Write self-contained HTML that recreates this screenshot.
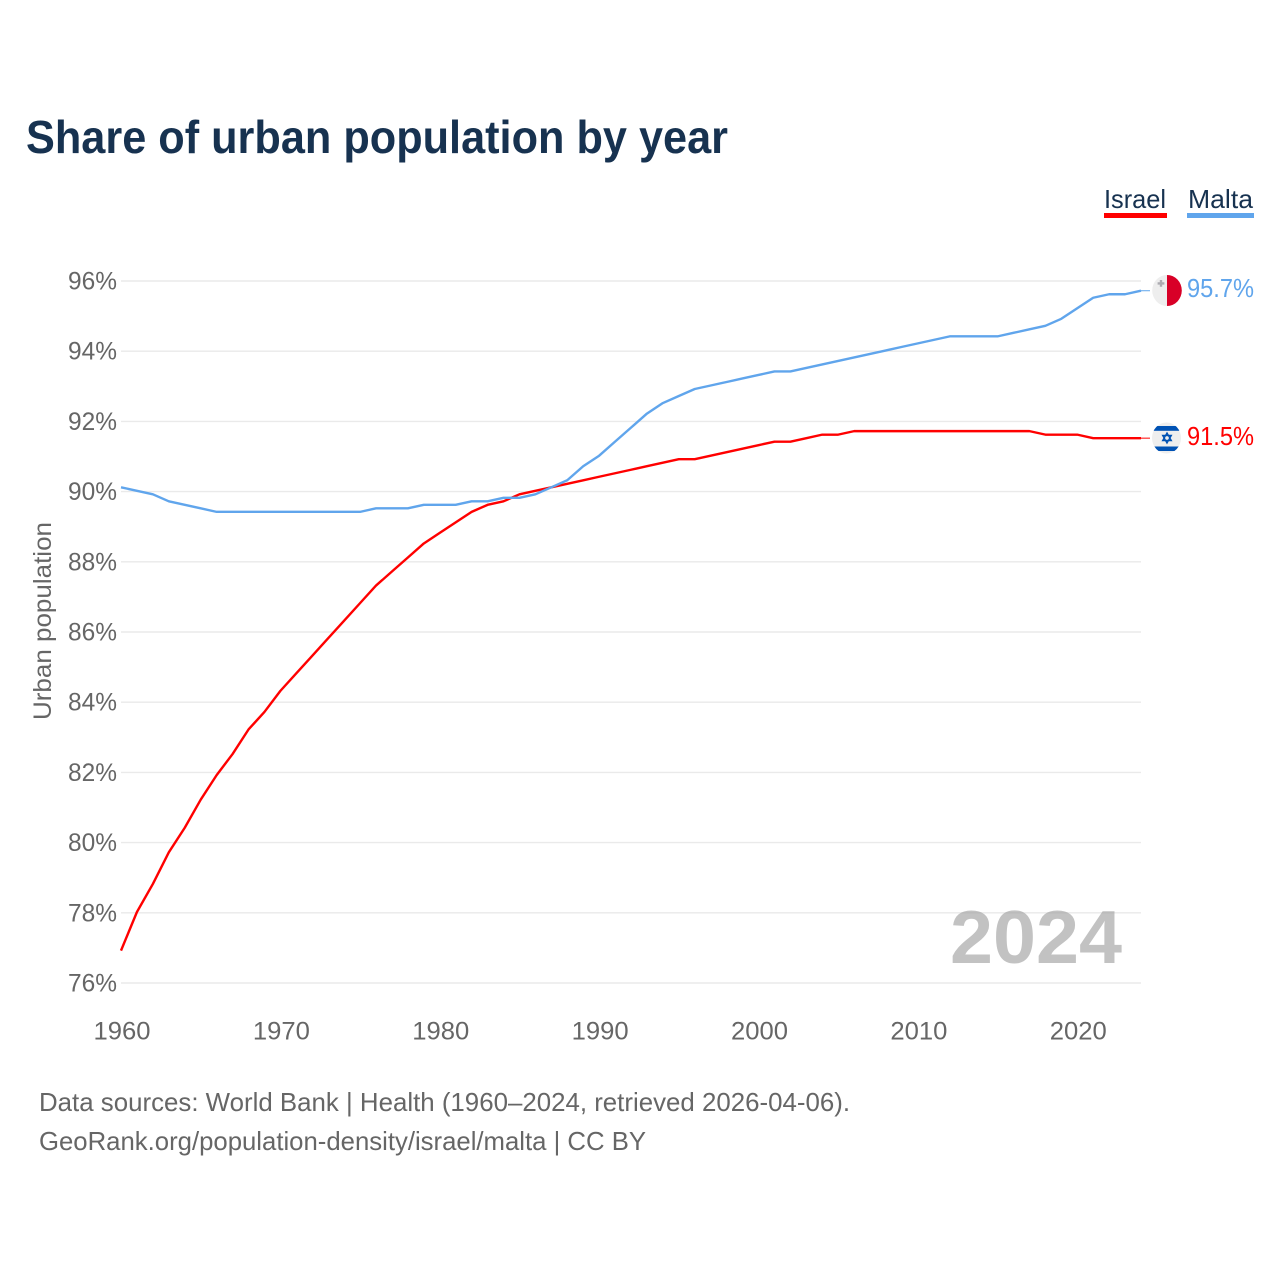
<!DOCTYPE html>
<html lang="en">
<head>
<meta charset="utf-8">
<title>Share of urban population by year</title>
<style>
html,body{margin:0;padding:0;background:#fff}
svg{display:block}
text{font-family:"Liberation Sans",sans-serif}
</style>
</head>
<body>
<svg id="chart" xmlns="http://www.w3.org/2000/svg" width="1280" height="1280" viewBox="0 0 1280 1280">
  <rect width="1280" height="1280" fill="#fff"/>
  <text x="26" y="153" font-size="46" font-weight="700" fill="#173250" textLength="702" lengthAdjust="spacingAndGlyphs">Share of urban population by year</text>

  <g>
    <g>
      <text x="1104" y="208" font-size="26" fill="#173250" textLength="62" lengthAdjust="spacingAndGlyphs">Israel</text>
      <rect x="1104" y="213" width="63" height="5" fill="#ff0000"/>
    </g>
    <g>
      <text x="1188" y="208" font-size="26" fill="#173250" textLength="65" lengthAdjust="spacingAndGlyphs">Malta</text>
      <rect x="1187" y="213" width="67" height="5" fill="#60a5ec"/>
    </g>
  </g>

  <text transform="translate(51,621) rotate(-90)" text-anchor="middle" font-size="25" fill="#666" textLength="198" lengthAdjust="spacingAndGlyphs">Urban population</text>

  <g id="grid"></g>
  <g id="yticks"></g>
  <g id="xticks"></g>

  <text x="1122" y="963" text-anchor="end" font-size="75" font-weight="700" fill="#999" fill-opacity="0.6" textLength="172" lengthAdjust="spacingAndGlyphs">2024</text>

  <g id="series" transform="translate(0,-0.8)"></g>

  <defs>
    <clipPath id="clip-malta"><ellipse cx="1167" cy="290.5" rx="14.8" ry="15.5"/></clipPath>
    <clipPath id="clip-israel"><ellipse cx="1166.5" cy="438" rx="14.5" ry="15.5"/></clipPath>
  </defs>

  <g clip-path="url(#clip-malta)">
    <rect x="1151" y="275" width="16" height="31" fill="#eeeeee"/>
    <rect x="1167" y="275" width="16" height="31" fill="#d80027"/>
    <path d="M1159.8 280h2.4v2.2h2.2v2.4h-2.2v2.2h-2.4v-2.2h-2.2v-2.4h2.2z" fill="#acabb1"/>
  </g>
  <g clip-path="url(#clip-israel)">
    <rect x="1151" y="422" width="32" height="32" fill="#eeeeee"/>
    <rect x="1151" y="426" width="32" height="4.8" fill="#0052b4"/>
    <rect x="1151" y="446.5" width="32" height="4.5" fill="#0052b4"/>
    <path d="M1167 433l4.3 7.5h-8.6zM1167 443l-4.3-7.5h8.6z" fill="none" stroke="#0052b4" stroke-width="1.4"/>
  </g>

  <text x="1187" y="297" font-size="26" fill="#60a5ec" textLength="67" lengthAdjust="spacingAndGlyphs">95.7%</text>
  <text x="1187" y="445" font-size="26" fill="#ff0000" textLength="67" lengthAdjust="spacingAndGlyphs">91.5%</text>

  <g>
    <text x="39" y="1111" font-size="26" fill="#666" textLength="811" lengthAdjust="spacingAndGlyphs">Data sources: World Bank | Health (1960–2024, retrieved 2026-04-06).</text>
    <text x="39" y="1150" font-size="26" fill="#666" textLength="607" lengthAdjust="spacingAndGlyphs">GeoRank.org/population-density/israel/malta | CC BY</text>
  </g>
</svg>
<script>
const years = [1960,1961,1962,1963,1964,1965,1966,1967,1968,1969,1970,1971,1972,1973,1974,1975,1976,1977,1978,1979,1980,1981,1982,1983,1984,1985,1986,1987,1988,1989,1990,1991,1992,1993,1994,1995,1996,1997,1998,1999,2000,2001,2002,2003,2004,2005,2006,2007,2008,2009,2010,2011,2012,2013,2014,2015,2016,2017,2018,2019,2020,2021,2022,2023,2024];
const israel = [76.9,78.0,78.8,79.7,80.4,81.2,81.9,82.5,83.2,83.7,84.3,84.8,85.3,85.8,86.3,86.8,87.3,87.7,88.1,88.5,88.8,89.1,89.4,89.6,89.7,89.9,90.0,90.1,90.2,90.3,90.4,90.5,90.6,90.7,90.8,90.9,90.9,91.0,91.1,91.2,91.3,91.4,91.4,91.5,91.6,91.6,91.7,91.7,91.7,91.7,91.7,91.7,91.7,91.7,91.7,91.7,91.7,91.7,91.6,91.6,91.6,91.5,91.5,91.5,91.5];
const malta = [90.1,90.0,89.9,89.7,89.6,89.5,89.4,89.4,89.4,89.4,89.4,89.4,89.4,89.4,89.4,89.4,89.5,89.5,89.5,89.6,89.6,89.6,89.7,89.7,89.8,89.8,89.9,90.1,90.3,90.7,91.0,91.4,91.8,92.2,92.5,92.7,92.9,93.0,93.1,93.2,93.3,93.4,93.4,93.5,93.6,93.7,93.8,93.9,94.0,94.1,94.2,94.3,94.4,94.4,94.4,94.4,94.5,94.6,94.7,94.9,95.2,95.5,95.6,95.6,95.7];
const yTickValues = [76,78,80,82,84,86,88,90,92,94,96];
const xTickValues = [1960,1970,1980,1990,2000,2010,2020];

const NS = 'http://www.w3.org/2000/svg';
const xScale = function (year) { return 121 + (year - 1960) * (1141 - 121) / (2024 - 1960); };
const yScale = function (value) { return 983 - (value - 76) * (983 - 281) / (96 - 76); };

const grid = document.getElementById('grid');
const yticks = document.getElementById('yticks');
const xticks = document.getElementById('xticks');
const seriesGroup = document.getElementById('series');

yTickValues.forEach(function (v) {
  const line = document.createElementNS(NS, 'line');
  
  
  line.setAttribute('x1', 121);
  line.setAttribute('x2', 1141);
  line.setAttribute('y1', yScale(v));
  line.setAttribute('y2', yScale(v));
  line.setAttribute('stroke', '#eaeaea');
  line.setAttribute('stroke-width', 1.4);
  grid.appendChild(line);

  const label = document.createElementNS(NS, 'text');
  
  
  label.setAttribute('x', 117);
  label.setAttribute('y', yScale(v) + 8.5);
  label.setAttribute('text-anchor', 'end');
  label.setAttribute('font-size', 25);
  label.setAttribute('fill', '#666');
  label.setAttribute('textLength', 49);
  label.setAttribute('lengthAdjust', 'spacingAndGlyphs');
  label.textContent = v + '%';
  yticks.appendChild(label);
});

xTickValues.forEach(function (y) {
  const label = document.createElementNS(NS, 'text');
  
  
  label.setAttribute('x', xScale(y) + 1);
  label.setAttribute('y', 1039.5);
  label.setAttribute('text-anchor', 'middle');
  label.setAttribute('font-size', 25);
  label.setAttribute('fill', '#666');
  label.setAttribute('textLength', 57);
  label.setAttribute('lengthAdjust', 'spacingAndGlyphs');
  label.textContent = y;
  xticks.appendChild(label);
});

function drawSeries(values, color, name) {
  const points = values.map(function (v, i) { return xScale(years[i]).toFixed(2) + ',' + yScale(v).toFixed(2); });
  const line = document.createElementNS(NS, 'polyline');
  
  
  line.setAttribute('points', points.join(' '));
  line.setAttribute('fill', 'none');
  line.setAttribute('stroke', color);
  line.setAttribute('stroke-width', 2.4);
  line.setAttribute('stroke-linejoin', 'round');
  seriesGroup.appendChild(line);

  const last = values[values.length - 1];
  const connector = document.createElementNS(NS, 'line');
  
  
  connector.setAttribute('x1', xScale(years[years.length - 1]));
  connector.setAttribute('x2', xScale(years[years.length - 1]) + 9);
  connector.setAttribute('y1', yScale(last));
  connector.setAttribute('y2', yScale(last));
  connector.setAttribute('stroke', color);
  connector.setAttribute('stroke-width', 1);
  seriesGroup.appendChild(connector);
}

drawSeries(israel, '#ff0000', 'israel');
drawSeries(malta, '#60a5ec', 'malta');
</script>
</body>
</html>
